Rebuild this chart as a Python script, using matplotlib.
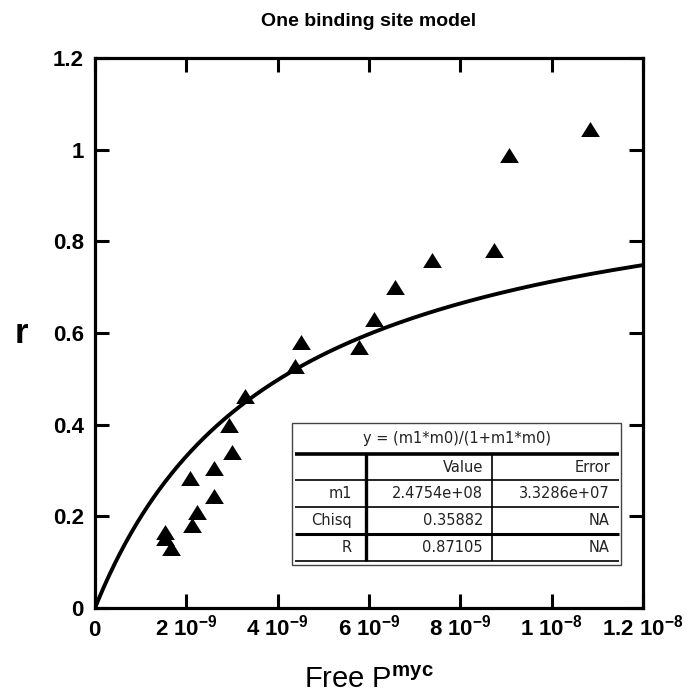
import numpy as np
import matplotlib
matplotlib.use("Agg")
from matplotlib import pyplot as plt
from matplotlib.patches import Rectangle
from matplotlib.path import Path

# data
free_p = [1.53e-9, 1.53e-9, 1.66e-9, 2.08e-9, 2.12e-9, 2.23e-9, 2.61e-9, 2.61e-9,
          2.94e-9, 3.00e-9, 3.28e-9, 4.38e-9, 4.52e-9, 5.79e-9, 6.12e-9, 6.57e-9,
          7.39e-9, 8.74e-9, 9.07e-9, 10.84e-9]
r_vals = [0.166, 0.152, 0.130, 0.284, 0.181, 0.210, 0.305, 0.244,
          0.399, 0.340, 0.463, 0.527, 0.581, 0.570, 0.630, 0.701,
          0.760, 0.780, 0.988, 1.045]

# fit result
m1 = 2.4754e+08
fit_title = "y = (m1*m0)/(1+m1*m0)"
col_names = ["", "Value", "Error"]
row_names = ["m1", "Chisq", "R"]
row_values = ["2.4754e+08", "0.35882", "0.87105"]
row_errors = ["3.3286e+07", "NA", "NA"]

x_ticks = [0, 2e-9, 4e-9, 6e-9, 8e-9, 1e-8, 1.2e-8]
x_labels = [r"$\mathbf{0}$", r"$\mathbf{2\ 10^{-9}}$", r"$\mathbf{4\ 10^{-9}}$",
            r"$\mathbf{6\ 10^{-9}}$", r"$\mathbf{8\ 10^{-9}}$",
            r"$\mathbf{1\ 10^{-8}}$", r"$\mathbf{1.2\ 10^{-8}}$"]
y_ticks = [0, 0.2, 0.4, 0.6, 0.8, 1.0, 1.2]
y_labels = ["0", "0.2", "0.4", "0.6", "0.8", "1", "1.2"]

plt.rcParams["font.family"] = ["Liberation Sans", "DejaVu Sans"]
plt.rcParams["mathtext.fontset"] = "custom"
plt.rcParams["mathtext.rm"] = "Liberation Sans"
plt.rcParams["mathtext.bf"] = "Liberation Sans:bold"
plt.rcParams["mathtext.it"] = "Liberation Sans:italic"

W, H = 692, 699
fig = plt.figure(figsize=(W / 100, H / 100), dpi=100)
ax = fig.add_axes([95 / W, 1 - 608 / H, 548 / W, 550 / H])

# fitted curve
xfit = np.linspace(0, 1.2e-8, 500)
ax.plot(xfit, m1 * xfit / (1 + m1 * xfit), color="black", lw=2.8)

# measured points, slightly squat triangles
tri = Path([(-1, -0.8), (1, -0.8), (0, 0.8), (-1, -0.8)],
           [Path.MOVETO, Path.LINETO, Path.LINETO, Path.CLOSEPOLY])
ax.plot(free_p, r_vals, linestyle="none", marker=tri, color="black",
        markersize=13.5, markeredgewidth=0)

ax.set_xlim(0, 1.2e-8)
ax.set_ylim(0, 1.2)
ax.set_xticks(x_ticks)
ax.set_xticklabels(x_labels)
ax.set_yticks(y_ticks)
ax.set_yticklabels(y_labels, fontweight="bold")
ax.tick_params(direction="in", length=10, width=2.2, top=True, right=True,
               color="black")
ax.tick_params(axis="y", pad=8, labelsize=16)
ax.tick_params(axis="x", pad=20, labelsize=16)
for lab in ax.get_xticklabels():
    lab.set_verticalalignment("baseline")
for sp in ax.spines.values():
    sp.set_linewidth(2.3)

fig.text(369 / W, 1 - 22 / H, "One binding site model", ha="center", va="center",
         fontsize=14, fontweight="bold")
fig.text(369 / W, 1 - 680 / H, r"Free P$^{\mathbf{myc}}$", ha="center", va="center",
         fontsize=21)
fig.text(21 / W, 1 - 333 / H, "r", ha="center", va="center",
         fontsize=25, fontweight="bold")

# fit table (pixel layout)
tab = fig.add_axes([291 / W, 1 - 566 / H, 331 / W, 144 / H])
tab.set_xlim(291, 622)
tab.set_ylim(566, 422)
tab.axis("off")
tab.add_patch(Rectangle((292, 423), 329, 142, fill=False, lw=1.0,
                        ec="#444444", clip_on=False))
tab.text(457, 439, fit_title, ha="center", va="center", fontsize=10.5,
         family="DejaVu Sans", color="#222222")
tab.hlines(453.5, 295, 619, color="black", lw=2.6)
row_lines = [480, 507, 534, 561]
row_lw = [1.2, 1.2, 2.2, 1.2]
for yl, lw in zip(row_lines, row_lw):
    tab.hlines(yl, 295, 619, color="black", lw=lw)
tab.vlines(366, 453.5, 561, color="black", lw=2.4)
tab.vlines(491.5, 453.5, 561, color="black", lw=1.2)

col_right = [352, 483, 610]
text_kw = dict(ha="right", va="center", fontsize=10.5, family="DejaVu Sans",
               color="#222222")
for cx, name in zip(col_right, col_names):
    tab.text(cx, 467, name, **text_kw)
row_y = [494, 520.5, 547.5]
for ry, name, val, err in zip(row_y, row_names, row_values, row_errors):
    tab.text(col_right[0], ry, name, **text_kw)
    tab.text(col_right[1], ry, val, **text_kw)
    tab.text(col_right[2], ry, err, **text_kw)

fig.savefig("out.png", dpi=100)
